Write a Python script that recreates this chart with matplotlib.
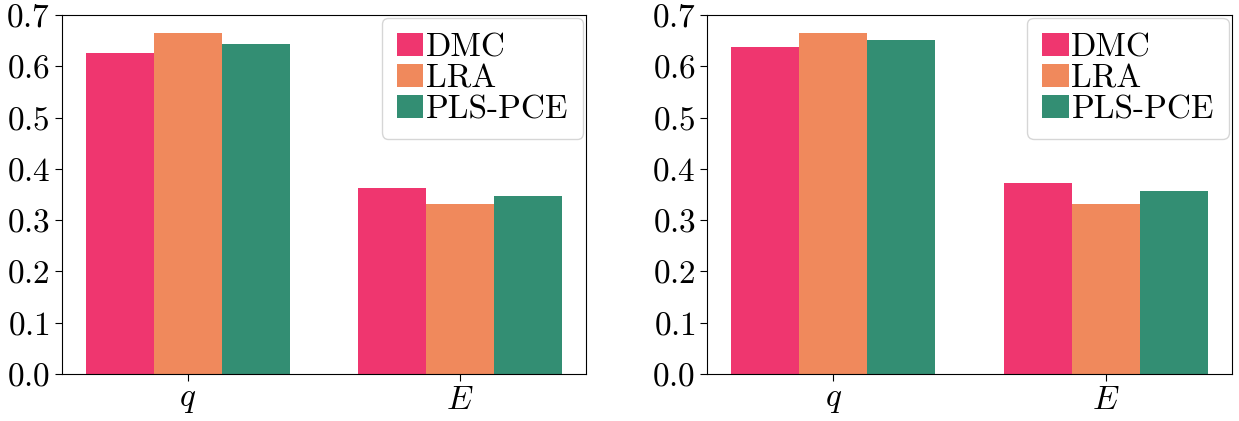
import numpy as np
import matplotlib
matplotlib.use("Agg")
import matplotlib.pyplot as plt

plt.rcParams["font.family"] = "cmr10"
plt.rcParams["mathtext.fontset"] = "cm"
plt.rcParams["axes.formatter.use_mathtext"] = True
plt.rcParams["axes.unicode_minus"] = False

# Kennwerte je Methode (links / rechts)
categories = ["$q$", "$E$"]
methods = ["DMC", "LRA", "PLS-PCE"]
colors = ["#ef366f", "#f0895c", "#338e73"]

left_dmc = [0.626, 0.362]
left_lra = [0.665, 0.332]
left_pls = [0.644, 0.347]

right_dmc = [0.637, 0.372]
right_lra = [0.665, 0.332]
right_pls = [0.652, 0.356]


def bar_panel(ax, series):
    x = np.arange(len(categories))
    width = 0.25
    for i, (vals, name, col) in enumerate(zip(series, methods, colors)):
        ax.bar(x + (i - 1) * width, vals, width, color=col, label=name)
    ax.set_xticks(x)
    ax.set_xticklabels(categories)
    ax.set_ylim(0, 0.7)
    ax.set_yticks(np.arange(0, 0.71, 0.1))
    ax.tick_params(labelsize=24, length=5)
    ax.legend(loc="upper right", fontsize=24, handlelength=0.8, handleheight=0.7,
              handletextpad=0.08, labelspacing=0.05, borderpad=0.45,
              borderaxespad=0.08)


fig = plt.figure(figsize=(12.39, 4.21), dpi=100)
ax1 = fig.add_axes([0.050, 0.112, 0.423, 0.852])
ax2 = fig.add_axes([0.571, 0.112, 0.423, 0.852])

bar_panel(ax1, [left_dmc, left_lra, left_pls])
bar_panel(ax2, [right_dmc, right_lra, right_pls])

fig.savefig("out.png", dpi=100)
